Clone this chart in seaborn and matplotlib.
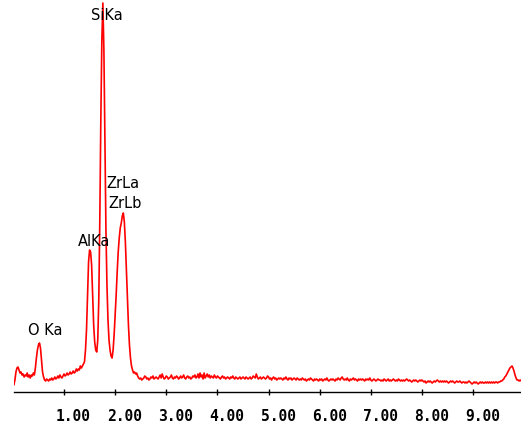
import numpy as np
import pandas as pd
import matplotlib
matplotlib.use("Agg")
import matplotlib.pyplot as plt
import matplotlib.transforms as mtransforms
import seaborn as sns

# EDS spectrum: counts per 20 eV channel, starting at 0.02 keV
channel_width_kev = 0.02
counts = [
    70, 120, 200, 240, 250, 220, 190, 200, 170, 180, 150, 170, 160, 190, 150, 170, 140, 170, 160, 190,
    170, 240, 340, 420, 470, 490, 440, 320, 200, 150, 120, 110, 130, 120, 110, 130, 120, 140, 120, 130,
    150, 130, 140, 160, 140, 170, 150, 140, 160, 180, 160, 170, 190, 170, 180, 200, 180, 190, 210, 190,
    200, 230, 210, 230, 220, 260, 240, 260, 280, 300, 420, 620, 970, 1300, 1420, 1400, 1270, 970, 670, 500,
    420, 400, 520, 920, 1720, 2720, 3520, 3890, 3420, 2520, 1620, 1070, 720, 520, 420, 360, 340, 420, 570, 770,
    970, 1200, 1400, 1540, 1640, 1690, 1760, 1790, 1700, 1500, 1220, 920, 670, 470, 340, 260, 220, 190, 200, 180,
    190, 160, 140, 130, 140, 120, 130, 140, 160, 150, 130, 140, 120, 130, 150, 140, 160, 130, 140, 150,
    140, 130, 150, 170, 140, 180, 150, 130, 140, 160, 150, 130, 140, 150, 170, 140, 130, 150, 140, 160,
    150, 130, 140, 160, 140, 150, 170, 140, 130, 150, 160, 140, 150, 130, 140, 160, 150, 170, 140, 150,
    180, 140, 190, 150, 170, 130, 190, 140, 160, 180, 150, 170, 140, 160, 150, 140, 170, 150, 140, 160,
    150, 140, 130, 150, 160, 140, 150, 130, 140, 150, 140, 130, 150, 140, 160, 140, 130, 150, 140, 130,
    140, 150, 130, 140, 150, 140, 130, 150, 140, 130, 140, 150, 130, 140, 160, 150, 140, 180, 150, 130,
    140, 150, 130, 140, 150, 140, 130, 140, 160, 150, 130, 140, 120, 140, 150, 130, 140, 120, 130, 140,
    130, 140, 130, 120, 140, 130, 150, 130, 120, 140, 130, 140, 120, 130, 140, 130, 120, 140, 130, 120,
    130, 120, 140, 130, 120, 130, 110, 120, 130, 120, 140, 130, 120, 110, 130, 120, 130, 120, 110, 130,
    120, 130, 110, 120, 130, 120, 140, 120, 110, 120, 130, 120, 130, 120, 110, 130, 120, 140, 130, 120,
    140, 150, 130, 120, 130, 120, 140, 120, 110, 130, 120, 130, 140, 120, 130, 120, 110, 130, 120, 130,
    120, 130, 120, 110, 130, 120, 130, 120, 140, 120, 110, 120, 130, 120, 110, 120, 130, 120, 120, 110,
    120, 110, 130, 120, 110, 120, 130, 110, 120, 110, 120, 130, 120, 110, 120, 110, 130, 120, 110, 120,
    110, 120, 110, 120, 130, 120, 110, 120, 110, 100, 110, 120, 110, 120, 110, 100, 110, 120, 110, 120,
    110, 100, 110, 90, 100, 110, 100, 110, 100, 90, 100, 110, 100, 110, 120, 110, 100, 110, 100, 110,
    100, 110, 100, 110, 100, 90, 100, 110, 100, 110, 100, 90, 100, 110, 100, 100, 110, 100, 90, 100,
    100, 90, 100, 90, 100, 110, 100, 90, 80, 90, 100, 90, 100, 90, 80, 90, 100, 90, 100, 90,
    90, 100, 90, 100, 90, 100, 90, 100, 90, 100, 90, 100, 100, 90, 100, 100, 110, 110, 120, 130,
    150, 160, 180, 200, 220, 240, 250, 260, 240, 210, 170, 140, 120, 120, 110, 120, 110,
]
energy_kev = np.arange(1, len(counts) + 1) * channel_width_kev

# Peak identifications
peak_labels = ["O Ka", "AlKa", "SiKa", "ZrLa", "ZrLb"]
label_energy = [0.628, 1.595, 1.84, 2.155, 2.20]
label_counts = [620, 1510, 3770, 2090, 1890]

tick_values = [1, 2, 3, 4, 5, 6, 7, 8, 9]
tick_labels = ["1.00", "2.00", "3.00", "4.00", "5.00", "6.00", "7.00", "8.00", "9.00"]

sns.set_style("white")

fig = plt.figure(figsize=(5.21, 4.23), dpi=100)
ax = fig.add_axes([14 / 521, 31 / 423, 507 / 521, 392 / 423])

df = pd.DataFrame({"Energy (keV)": energy_kev, "Counts": counts})
sns.lineplot(data=df, x="Energy (keV)", y="Counts", ax=ax,
             color="#ff0000", linewidth=1.2, estimator=None)

ax.set_xlim(0.022, 9.937)
ax.set_ylim(0, 3920)

for side in ["top", "right", "left"]:
    ax.spines[side].set_visible(False)
ax.spines["bottom"].set_color("black")
ax.spines["bottom"].set_linewidth(1.0)

ax.set_yticks([])
ax.set_xticks(tick_values)
ax.set_xticklabels(tick_labels, fontfamily="DejaVu Sans Mono",
                   fontweight="bold", fontsize=10.5)
ax.tick_params(axis="x", bottom=True, direction="inout", length=4.0, width=1.0,
               color="black", pad=10.0, labelcolor="black")
shift = mtransforms.ScaledTranslation(9.5 / 100, 0, fig.dpi_scale_trans)
for lab in ax.get_xticklabels():
    lab.set_transform(lab.get_transform() + shift)

ax.set_xlabel("")
ax.set_ylabel("")

for text, e, c in zip(peak_labels, label_energy, label_counts):
    ax.text(e, c, text, ha="center", va="center", fontsize=10.5,
            family="DejaVu Sans", color="black")

fig.savefig("out.png", dpi=100)
